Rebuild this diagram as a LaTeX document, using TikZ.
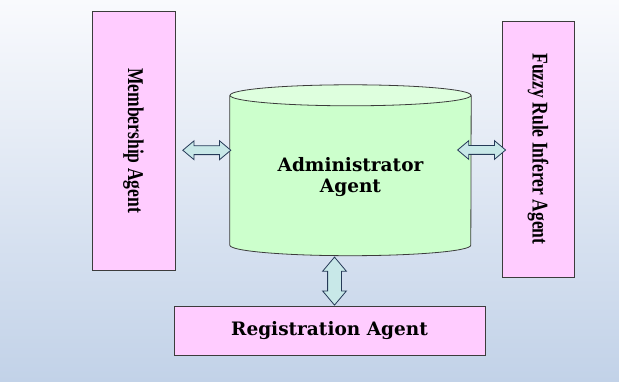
\documentclass[tikz,border=0pt]{standalone}
\usepackage{fontspec}
\setmainfont{Liberation Serif}
\newfontfamily\agentfont{DejaVu Serif}
\usepackage{tikz}
\usetikzlibrary{shapes.arrows,calc,backgrounds}

\definecolor{bgtop}{RGB}{249,250,253}
\definecolor{bgbot}{RGB}{194,210,232}
\definecolor{agentpink}{RGB}{255,204,255}
\definecolor{cylgreen}{RGB}{204,255,204}
\definecolor{cyltop}{RGB}{222,255,222}
\definecolor{arrfill}{RGB}{200,232,232}
\definecolor{arrline}{RGB}{38,58,88}
\definecolor{boxline}{RGB}{60,60,60}

\begin{document}
\begin{tikzpicture}[x=1pt,y=1pt,
  agentbox/.style={draw=boxline,fill=agentpink,line width=0.8pt,inner sep=0pt},
  sidetext/.style={font=\fontsize{22.5}{24}\selectfont\bfseries,rotate=-90},
  maintext/.style={font=\agentfont\fontsize{18.5}{21}\selectfont\bfseries,align=center},
  dblarr/.style={double arrow,draw=arrline,fill=arrfill,line width=0.8pt,
    inner sep=0pt,inner ysep=4pt,double arrow head extend=5pt,
    double arrow tip angle=80,minimum height=48pt}]
  \useasboundingbox (0,0) rectangle (619,381);
  \node[agentbox,minimum width=83pt,minimum height=259pt] (member) at (133.5,240.5) {};
  \node[sidetext] at (member.center) {\scalebox{0.78}[1]{Membership Agent}};
  \node[agentbox,minimum width=72pt,minimum height=256pt] (fuzzy) at (538,232) {};
  \node[sidetext] at (fuzzy.center) {\scalebox{0.78}[1]{Fuzzy Rule Inferer Agent}};
  \node[agentbox,maintext,minimum width=311pt,minimum height=49pt] (reg) at (329.5,50.5) {Registration Agent};
  \node[inner sep=0pt,minimum width=241pt,minimum height=149.5pt] (admin) at (350.5,210.75) {};
  \node[maintext] (admintext) at ($(admin.center)+(0,-7)$) {Administrator\\Agent};
  \begin{pgfonlayer}{background}
    \shade[top color=bgtop,bottom color=bgbot] (0,0) rectangle (619,381);
    % cylinder body and top cap
    \draw[draw=boxline,fill=cylgreen,line width=0.8pt] (admin.north west) -- (admin.south west)
      arc[start angle=180,end angle=360,x radius=120.5pt,y radius=10.5pt] -- (admin.north east);
    \draw[draw=boxline,fill=cyltop,line width=0.8pt] (admin.north) ellipse[x radius=120.5pt,y radius=10.5pt];
  \end{pgfonlayer}
  \node[dblarr] (arrl) at ($(admin.west)+(-23,20)$) {};
  \node[dblarr] (arrr) at ($(fuzzy.west)+(-20,-1)$) {};
  \node[dblarr,rotate=90,inner ysep=6.5pt] (arrd) at ($(reg.north)+(5,24.5)$) {};
\end{tikzpicture}
\end{document}
